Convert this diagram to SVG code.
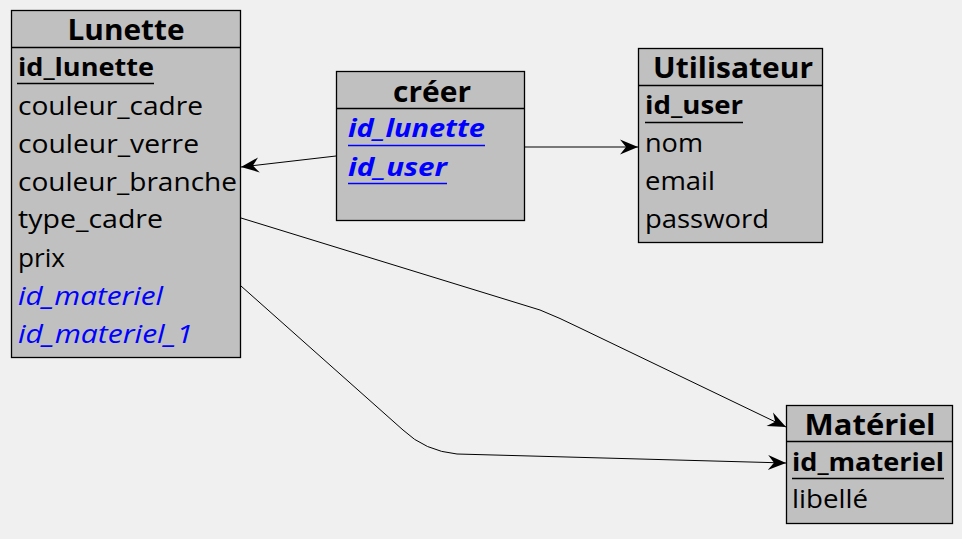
<svg xmlns="http://www.w3.org/2000/svg" width="962" height="539" viewBox="0 0 962 539">
<style>
.box{fill:#c0c0c0;stroke:#000;stroke-width:1.3}
.sep{stroke:#000;stroke-width:1.3}
.t{font-family:"Open Sans","Liberation Sans",sans-serif;font-size:29px;font-weight:bold;fill:#000;text-anchor:middle}
.f{font-family:"Open Sans","Liberation Sans",sans-serif;font-size:25.5px;fill:#000}
.k{font-weight:bold}
.fk{fill:#0000ff;font-style:italic}
.ul{stroke:#000;stroke-width:1.3}
.ulb{stroke:#0000ff;stroke-width:1.3}
.c{fill:none;stroke:#000;stroke-width:1}
</style>
<defs>
<marker id="arr" markerUnits="userSpaceOnUse" markerWidth="22" markerHeight="18" viewBox="-19 -9 22 18" refX="0" refY="0" orient="auto" overflow="visible">
<path d="M0,0 L-18,-7.5 L-12,0 L-18,7.5 Z" fill="#000"/>
</marker>
</defs>
<rect width="962" height="539" fill="#f0f0f0"/>
<g id="connectors">
<path class="c" d="M336,156 L241,167" marker-end="url(#arr)"/>
<path class="c" d="M525,147 L638,147" marker-end="url(#arr)"/>
<path class="c" d="M241,218 L540,310 Q560,318 580,328 L786,427" marker-end="url(#arr)"/>
<path class="c" d="M241,286 L403,430 Q425,451 457,454 L786,463" marker-end="url(#arr)"/>
</g>
<g id="lunette">
<rect class="box" x="11.5" y="10.5" width="229" height="347"/>
<line class="sep" x1="11.5" y1="47.5" x2="240.5" y2="47.5"/>
<text class="t" x="126" y="40" textLength="117" lengthAdjust="spacingAndGlyphs">Lunette</text>
<text class="f k" x="18" y="76" textLength="136" lengthAdjust="spacingAndGlyphs">id_lunette</text>
<line class="ul" x1="17" y1="83.5" x2="154" y2="83.5"/>
<text class="f" x="18" y="115" textLength="185" lengthAdjust="spacingAndGlyphs">couleur_cadre</text>
<text class="f" x="18" y="153" textLength="181" lengthAdjust="spacingAndGlyphs">couleur_verre</text>
<text class="f" x="18" y="191" textLength="219" lengthAdjust="spacingAndGlyphs">couleur_branche</text>
<text class="f" x="18" y="228" textLength="145" lengthAdjust="spacingAndGlyphs">type_cadre</text>
<text class="f" x="18" y="267" textLength="47" lengthAdjust="spacingAndGlyphs">prix</text>
<text class="f fk" x="18" y="305" textLength="145" lengthAdjust="spacingAndGlyphs">id_materiel</text>
<text class="f fk" x="18" y="343" textLength="175" lengthAdjust="spacingAndGlyphs">id_materiel_1</text>
</g>
<g id="creer">
<rect class="box" x="336.5" y="71.5" width="188" height="149"/>
<line class="sep" x1="336.5" y1="108.5" x2="524.5" y2="108.5"/>
<text class="t" x="432" y="102" textLength="78" lengthAdjust="spacingAndGlyphs">créer</text>
<text class="f k fk" x="348" y="137" textLength="137" lengthAdjust="spacingAndGlyphs">id_lunette</text>
<line class="ulb" x1="348" y1="145.5" x2="485" y2="145.5"/>
<text class="f k fk" x="348" y="176" textLength="99" lengthAdjust="spacingAndGlyphs">id_user</text>
<line class="ulb" x1="348" y1="183.5" x2="447" y2="183.5"/>
</g>
<g id="utilisateur">
<rect class="box" x="638.5" y="48.5" width="184" height="194"/>
<line class="sep" x1="638.5" y1="85.5" x2="822.5" y2="85.5"/>
<text class="t" x="733" y="78" textLength="160" lengthAdjust="spacingAndGlyphs">Utilisateur</text>
<text class="f k" x="645" y="114" textLength="98" lengthAdjust="spacingAndGlyphs">id_user</text>
<line class="ul" x1="645" y1="122.5" x2="743" y2="122.5"/>
<text class="f" x="645" y="152" textLength="58" lengthAdjust="spacingAndGlyphs">nom</text>
<text class="f" x="645" y="190" textLength="70" lengthAdjust="spacingAndGlyphs">email</text>
<text class="f" x="645" y="228" textLength="124" lengthAdjust="spacingAndGlyphs">password</text>
</g>
<g id="materiel">
<rect class="box" x="786.5" y="405.5" width="166" height="118"/>
<line class="sep" x1="786.5" y1="441.5" x2="952.5" y2="441.5"/>
<text class="t" x="870" y="435" textLength="131" lengthAdjust="spacingAndGlyphs">Matériel</text>
<text class="f k" x="792" y="471" textLength="152" lengthAdjust="spacingAndGlyphs">id_materiel</text>
<line class="ul" x1="792" y1="478.5" x2="944" y2="478.5"/>
<text class="f" x="792" y="508" textLength="76" lengthAdjust="spacingAndGlyphs">libellé</text>
</g>
</svg>
